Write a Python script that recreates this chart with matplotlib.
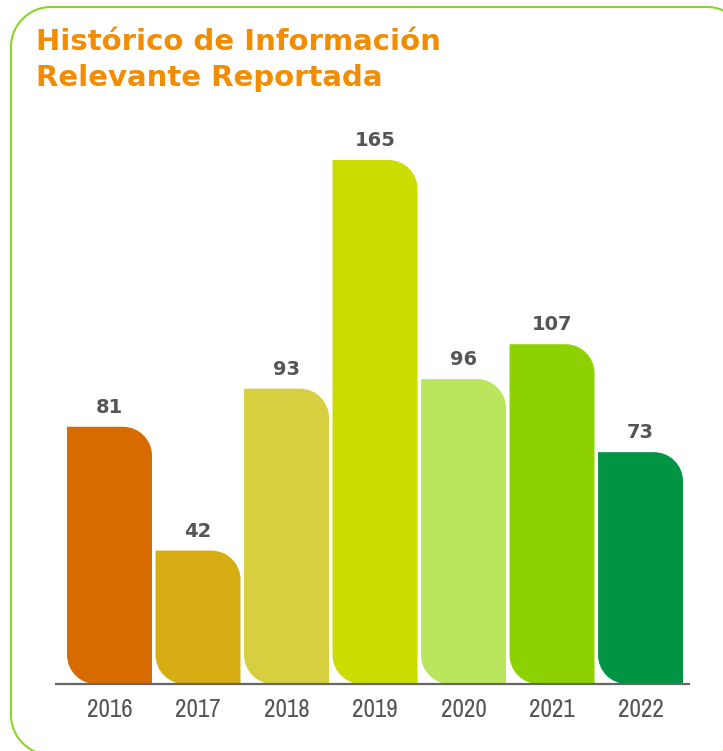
import matplotlib
matplotlib.use("Agg")
import matplotlib.pyplot as plt
from matplotlib.path import Path
from matplotlib.patches import PathPatch
from matplotlib import font_manager

# Data
years = ["2016", "2017", "2018", "2019", "2020", "2021", "2022"]
values = [81, 42, 93, 165, 96, 107, 73]
colors = ["#D76B00", "#D6AE14", "#D8CF40", "#CADC00", "#BAE65E", "#8ED100", "#009444"]
title_lines = ["Histórico de Información", "Relevante Reportada"]

W, H = 723, 751
DPI = 100
fig = plt.figure(figsize=(W / DPI, H / DPI), dpi=DPI)
fig.patch.set_facecolor("white")

# Pick a narrow face for the year labels if one is installed
narrow = None
for f in font_manager.fontManager.ttflist:
    nm = f.name.lower()
    if ("narrow" in nm or "condensed" in nm) and f.weight in (400, "normal", "regular") \
            and f.style == "normal":
        narrow = f.name
        break
tick_family = narrow if narrow else "Roboto"
tick_size = 18 if narrow else 14

K = 0.5523


def rounded_rect(x0, y0, x1, y1, r):
    """Closed path of a rectangle with all four corners rounded (y up)."""
    verts = [
        (x0 + r, y0), (x1 - r, y0),
        (x1 - r + K * r, y0), (x1, y0 + r - K * r), (x1, y0 + r),
        (x1, y1 - r),
        (x1, y1 - r + K * r), (x1 - r + K * r, y1), (x1 - r, y1),
        (x0 + r, y1),
        (x0 + r - K * r, y1), (x0, y1 - r + K * r), (x0, y1 - r),
        (x0, y0 + r),
        (x0, y0 + r - K * r), (x0 + r - K * r, y0), (x0 + r, y0),
        (x0 + r, y0),
    ]
    codes = ([Path.MOVETO, Path.LINETO]
             + [Path.CURVE4] * 3 + [Path.LINETO]
             + [Path.CURVE4] * 3 + [Path.LINETO]
             + [Path.CURVE4] * 3 + [Path.LINETO]
             + [Path.CURVE4] * 3 + [Path.CLOSEPOLY])
    return Path(verts, codes)


# Full-figure background panel in pixel units (white card with green outline)
bg = fig.add_axes([0, 0, 1, 1])
bg.set_xlim(0, W)
bg.set_ylim(0, H)
bg.axis("off")
bg.add_patch(PathPatch(rounded_rect(11, H - 755, 747, H - 7, 40),
                       facecolor="white", edgecolor="#8CD32A", linewidth=1.5,
                       clip_on=False))

# Axes placement (pixels from the top-left of the figure)
ax_left, ax_right = 55, 690
ax_top, ax_base = 120, 684
ax = fig.add_axes([ax_left / W, (H - ax_base) / H,
                   (ax_right - ax_left) / W, (ax_base - ax_top) / H])
ax.set_xlim(-0.616, 6.559)
ax.set_ylim(0, 177.6)
ax.axis("off")

# Pixel-per-unit scale for the corner radii
p0 = ax.transData.transform((0, 0))
p1 = ax.transData.transform((1, 1))
sx, sy = p1[0] - p0[0], p1[1] - p0[1]
r_px = 29
rx, ry = r_px / sx, r_px / sy
bar_w = 0.96


def leaf_bar(xc, h):
    x0, x1 = xc - bar_w / 2, xc + bar_w / 2
    verts = [
        (x0 + rx, 0), (x1, 0), (x1, h - ry),
        (x1, h - ry + K * ry), (x1 - rx + K * rx, h), (x1 - rx, h),
        (x0, h), (x0, ry),
        (x0, ry - K * ry), (x0 + rx - K * rx, 0), (x0 + rx, 0),
        (x0 + rx, 0),
    ]
    codes = [Path.MOVETO, Path.LINETO, Path.LINETO,
             Path.CURVE4, Path.CURVE4, Path.CURVE4,
             Path.LINETO, Path.LINETO,
             Path.CURVE4, Path.CURVE4, Path.CURVE4,
             Path.CLOSEPOLY]
    return Path(verts, codes)


for i, (v, c) in enumerate(zip(values, colors)):
    ax.add_patch(PathPatch(leaf_bar(i, v), facecolor=c, edgecolor="none"))
    ax.annotate(str(v), (i, v), xytext=(0, 14), textcoords="offset points",
                ha="center", va="center", fontsize=14, fontweight="bold",
                color="#555555", family="DejaVu Sans")
    ax.annotate(years[i], (i, 0), xytext=(0, -18.5), textcoords="offset points",
                ha="center", va="center", fontsize=tick_size, color="#555555",
                family=tick_family)

# Baseline
ax.plot([-0.616, 6.559], [0, 0], color="#666666", lw=1.6,
        solid_capstyle="butt", clip_on=False)

# Title
for j, line in enumerate(title_lines):
    fig.text(36 / W, (H - (50 + 36 * j)) / H, line, ha="left", va="baseline",
             fontsize=21, fontweight="bold", color="#F28C00",
             family="DejaVu Sans")

fig.savefig("out.png", dpi=DPI, facecolor="white")
